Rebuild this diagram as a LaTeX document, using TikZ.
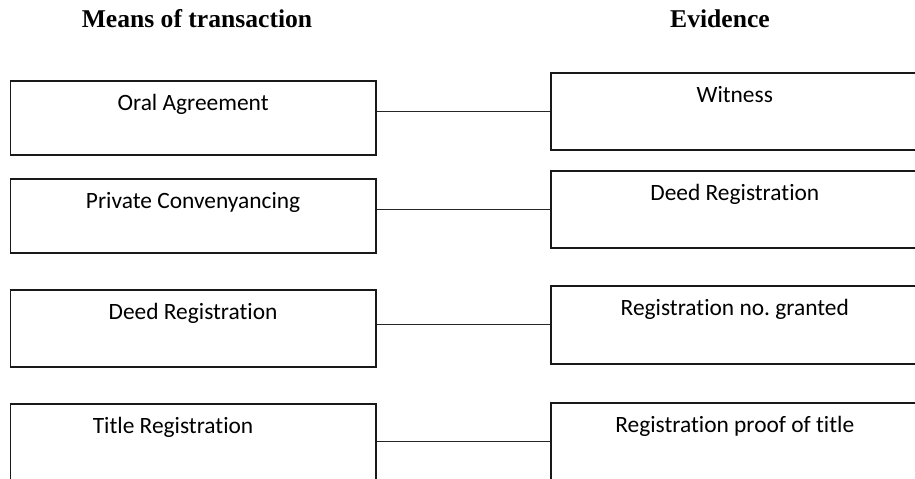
\documentclass[tikz,border=0pt]{standalone}
\usepackage{fontspec}
\setmainfont{Liberation Serif}
\newfontfamily\calfont[Ligatures=NoCommon]{Carlito}
\begin{document}
\begin{tikzpicture}[x=0.5pt,y=-0.5pt,
    means/.style={draw=black!90, line width=0.8pt, inner sep=0pt,
                  anchor=north west, minimum width=182.75pt, text height=15pt,
                  font=\calfont\fontsize{11.7}{14}\selectfont},
    evid/.style={means, minimum width=184pt},
    head/.style={anchor=base, font=\bfseries\fontsize{12.8}{15}\selectfont},
    link/.style={draw=black!85, line width=0.6pt}]
\def\lx{9.5} %x of the left column
\def\rx{550} %x of the right column

\useasboundingbox (0,0) rectangle (915,478);
\clip (0,0) rectangle (915,478); %bottom and right boxes run off the page

% headings
\node[head] (hmeans) at (197,27) {Means of transaction};
\node[head] (hevid) at (720,27) {Evidence};

% left column
\node[means, text depth=22pt] (oral) at (\lx,80) {Oral Agreement};
\node[means, text depth=22pt] (private) at (\lx,178) {Private Convenyancing};
\node[means, text depth=23.5pt] (deedl) at (\lx,289) {Deed Registration};
\node[means, text depth=23.5pt] (title) at (\lx,403) {Title Registration\hspace*{20pt}};

% right column
\node[evid, text depth=23.5pt] (witness) at (\rx,72) {Witness};
\node[evid, text depth=23.5pt] (deedr) at (\rx,170) {Deed Registration};
\node[evid, text depth=24pt] (regno) at (\rx,285) {Registration no.\ granted};
\node[evid, text depth=23.5pt] (proof) at (\rx,402) {Registration proof of title};

% links
\draw[link] (witness.west -| oral.east) -- (witness.west);
\draw[link] (deedr.west -| private.east) -- (deedr.west);
\draw[link] (regno.west -| deedl.east) -- (regno.west);
\draw[link] (proof.west -| title.east) -- (proof.west);

\end{tikzpicture}
\end{document}
